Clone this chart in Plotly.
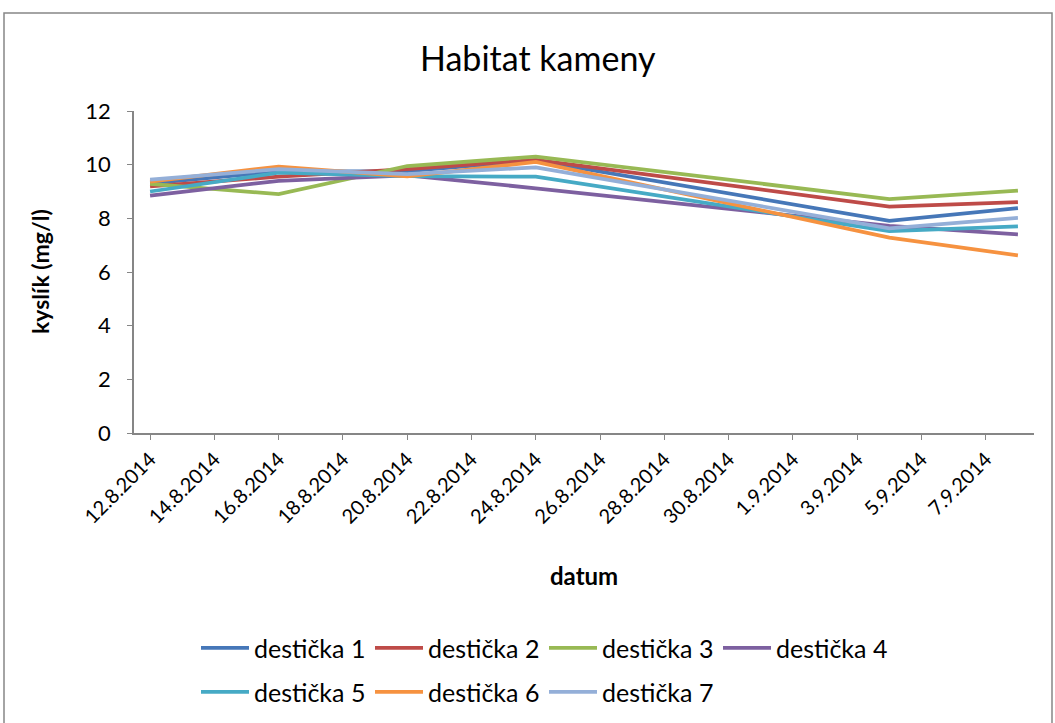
import plotly.graph_objects as go

# Measurement dates (sampling days)
dates = ["2014-08-12", "2014-08-16", "2014-08-20", "2014-08-24", "2014-09-04", "2014-09-08"]

# Dissolved oxygen (mg/l) per plate
destička_1 = [9.30, 9.75, 9.76, 10.15, 7.91, 8.38]
destička_2 = [9.19, 9.55, 9.83, 10.18, 8.44, 8.60]
destička_3 = [9.28, 8.90, 9.95, 10.30, 8.72, 9.03]
destička_4 = [8.85, 9.40, 9.60, 9.12, 7.72, 7.40]
destička_5 = [9.00, 9.70, 9.57, 9.55, 7.52, 7.70]
destička_6 = [9.37, 9.93, 9.56, 10.10, 7.28, 6.62]
destička_7 = [9.44, 9.83, 9.65, 9.90, 7.63, 8.02]

series_names = ["destička 1", "destička 2", "destička 3", "destička 4",
                "destička 5", "destička 6", "destička 7"]
series_values = [destička_1, destička_2, destička_3, destička_4,
                 destička_5, destička_6, destička_7]
colors = ["#4677B8", "#BE4B48", "#98B954", "#7D60A0", "#46AAC5", "#F69240", "#94AFD8"]

# Axis ticks every second day
tick_dates = ["2014-08-%02d" % d for d in range(12, 32, 2)] + \
             ["2014-09-%02d" % d for d in range(1, 9, 2)]
tick_labels = ["12.8.2014", "14.8.2014", "16.8.2014", "18.8.2014", "20.8.2014",
               "22.8.2014", "24.8.2014", "26.8.2014", "28.8.2014", "30.8.2014",
               "1.9.2014", "3.9.2014", "5.9.2014", "7.9.2014"]
y_ticks = [0, 2, 4, 6, 8, 10, 12]

FONT = "Lato, 'Open Sans', sans-serif"

L, R, T, B = 134, 21, 111, 290
W, H = 1055, 723
pw, ph = W - L - R, H - T - B


def px(x):
    return (x - L) / pw


def py(y):
    return (T + ph - y) / ph


# Legend grid: four entries on the first row, three on the second
legend_slots = [(196, 648), (370, 648), (544, 648), (718, 648),
                (196, 692), (370, 692), (544, 692)]
legend_ids = ["legend"] + ["legend%d" % k for k in range(2, 8)]

fig = go.Figure()
for name, vals, col, lid in zip(series_names, series_values, colors, legend_ids):
    fig.add_trace(go.Scatter(
        x=dates, y=vals, name=name, mode="lines",
        line=dict(color=col, width=3.75),
        legend=lid,
    ))

legend_layout = {}
for lid, (lx, ly) in zip(legend_ids, legend_slots):
    legend_layout[lid] = dict(
        x=px(lx), y=py(ly), xanchor="left", yanchor="middle",
        font=dict(size=25), itemwidth=48,
        bgcolor="rgba(0,0,0,0)", borderwidth=0,
        itemclick=False, itemdoubleclick=False,
    )

fig.update_layout(
    width=W, height=H,
    margin=dict(l=L, r=R, t=T, b=B, autoexpand=False),
    paper_bgcolor="white", plot_bgcolor="white",
    font=dict(family=FONT, color="black", size=22),
    showlegend=True,
    xaxis=dict(
        type="date",
        range=["2014-08-11 12:00", "2014-09-08 12:00"],
        tickmode="array", tickvals=tick_dates, ticktext=tick_labels,
        tickangle=-45, tickfont=dict(size=20),
        showgrid=False, zeroline=False, automargin=False,
        showline=True, linecolor="#868686", linewidth=1.5,
        ticks="outside", ticklen=5, tickcolor="#868686",
    ),
    yaxis=dict(
        range=[0, 12], tickmode="array", tickvals=y_ticks,
        tickfont=dict(size=22), ticklabelstandoff=12,
        showgrid=False, zeroline=False, automargin=False,
        showline=True, linecolor="#868686", linewidth=1.5,
        ticks="outside", ticklen=5, tickcolor="#868686",
    ),
    annotations=[
        dict(text="Habitat kameny", xref="paper", yref="paper",
             x=px(538), y=py(58), xanchor="center", yanchor="middle",
             showarrow=False, font=dict(size=34)),
        dict(text="<b>kyslík (mg/l)</b>", xref="paper", yref="paper",
             x=px(40), y=py(272), xanchor="center", yanchor="middle",
             textangle=-90, showarrow=False, font=dict(size=23)),
        dict(text="<b>datum</b>", xref="paper", yref="paper",
             x=px(584), y=py(575), xanchor="center", yanchor="middle",
             showarrow=False, font=dict(size=24)),
    ],
    shapes=[
        dict(type="rect", xref="paper", yref="paper",
             x0=px(4), x1=px(1052), y0=py(740), y1=py(13),
             line=dict(color="#868686", width=1.5), layer="below"),
    ],
    **legend_layout,
)

fig.write_html("out.html")
